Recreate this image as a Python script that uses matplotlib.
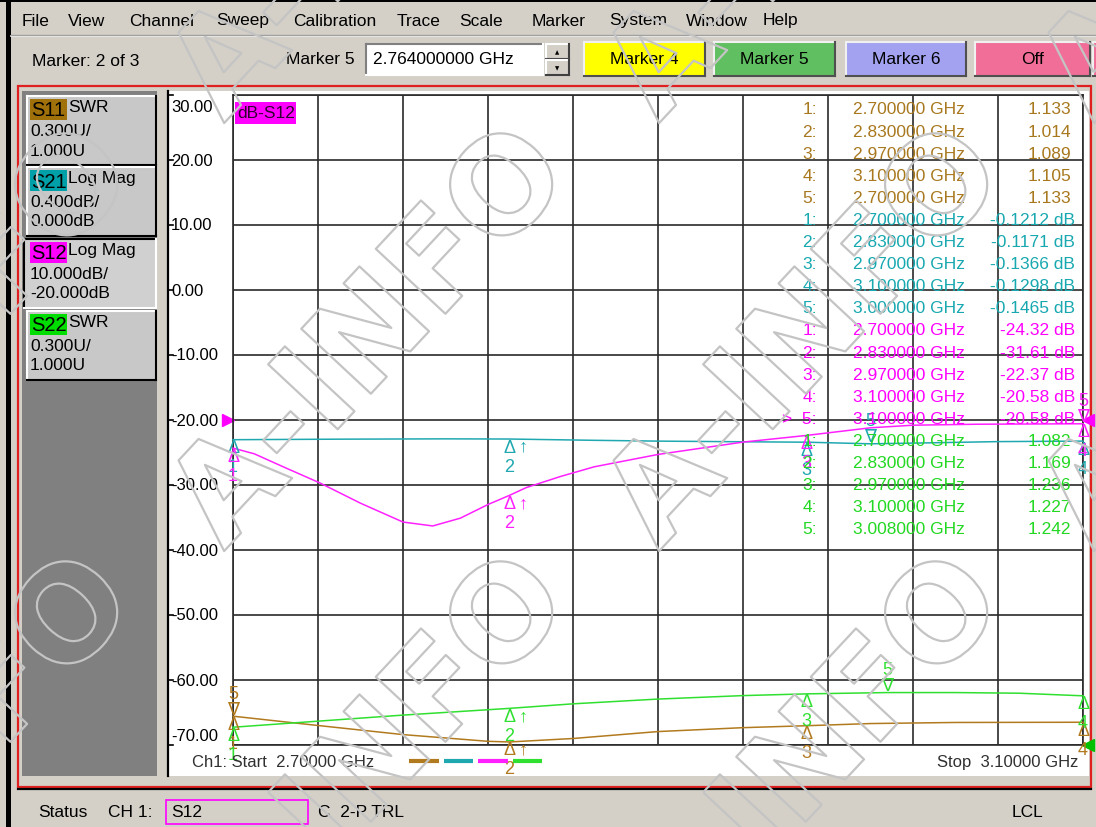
import matplotlib.pyplot as plt
import matplotlib.patheffects as pe
from matplotlib import transforms
from matplotlib.patches import Rectangle

plt.rcParams['font.family'] = ['Liberation Sans', 'DejaVu Sans']

W, H = 1096, 828

# sweep (GHz) and the S12 dB grid the traces are drawn on
f_start, f_stop = 2.70, 3.10
grid_top, grid_bot = 30, -70
ylabels = ["30.00", "20.00", "10.00", "0.00", "-10.00", "-20.00",
           "-30.00", "-40.00", "-50.00", "-60.00", "-70.00"]

# traces
s11_freq = [2.70, 2.74, 2.78, 2.82, 2.83, 2.86, 2.90, 2.94, 2.97, 3.00, 3.04, 3.10]
s11_swr = [1.133, 1.090, 1.048, 1.017, 1.014, 1.030, 1.062, 1.080, 1.089, 1.099, 1.104, 1.105]

s21_freq = [2.70, 2.75, 2.80, 2.83, 2.87, 2.90, 2.94, 2.97, 3.00, 3.03, 3.06, 3.10]
s21_db = [-0.1212, -0.118, -0.116, -0.1171, -0.125, -0.130, -0.134, -0.1366, -0.1465, -0.140, -0.133, -0.1298]

s12_freq = [2.700, 2.710, 2.725, 2.741, 2.760, 2.780, 2.794, 2.807, 2.820, 2.830, 2.838,
            2.854, 2.870, 2.900, 2.940, 2.970, 3.000, 3.020, 3.050, 3.100]
s12_db = [-24.32, -25.2, -27.4, -29.7, -32.8, -35.7, -36.3, -35.1, -33.0, -31.61, -30.4,
          -28.7, -27.2, -25.3, -23.4, -22.37, -21.2, -20.8, -20.65, -20.58]

s22_freq = [2.70, 2.74, 2.78, 2.83, 2.86, 2.90, 2.94, 2.97, 3.008, 3.04, 3.07, 3.10]
s22_swr = [1.082, 1.110, 1.138, 1.169, 1.190, 1.212, 1.228, 1.236, 1.242, 1.242, 1.239, 1.227]

# marker readouts (markers 1..5)
mk_s11_freq = [2.70, 2.83, 2.97, 3.10, 2.70]
mk_s11_val = [1.133, 1.014, 1.089, 1.105, 1.133]
mk_s21_freq = [2.70, 2.83, 2.97, 3.10, 3.00]
mk_s21_val = [-0.1212, -0.1171, -0.1366, -0.1298, -0.1465]
mk_s12_freq = [2.70, 2.83, 2.97, 3.10, 3.10]
mk_s12_val = [-24.32, -31.61, -22.37, -20.58, -20.58]
mk_s22_freq = [2.70, 2.83, 2.97, 3.10, 3.008]
mk_s22_val = [1.082, 1.169, 1.236, 1.227, 1.242]

# channel setup: format, scale per div, reference value, reference line on grid
traces = [
    dict(name="S11", fmt="SWR", per_div=0.3, ref=1.0, ref_pos=-70, lines=["0.300U/", "1.000U"],
         color="#b27a1e", txt="#a8781e", tag="#a0700a", freq=s11_freq, val=s11_swr,
         mf=mk_s11_freq, mv=mk_s11_val, vfmt="{:.3f}"),
    dict(name="S21", fmt="Log Mag", per_div=0.4, ref=0.0, ref_pos=-20, lines=["0.400dB/", "0.000dB"],
         color="#20a8b0", txt="#18a8b0", tag="#00a0a8", freq=s21_freq, val=s21_db,
         mf=mk_s21_freq, mv=mk_s21_val, vfmt="{:.4f} dB"),
    dict(name="S12", fmt="Log Mag", per_div=10.0, ref=-20.0, ref_pos=-20, lines=["10.000dB/", "-20.000dB"],
         color="#ff20ff", txt="#ff00ff", tag="#ff00ff", freq=s12_freq, val=s12_db,
         mf=mk_s12_freq, mv=mk_s12_val, vfmt="{:.2f} dB"),
    dict(name="S22", fmt="SWR", per_div=0.3, ref=1.0, ref_pos=-70, lines=["0.300U/", "1.000U"],
         color="#30e030", txt="#22d822", tag="#00dd00", freq=s22_freq, val=s22_swr,
         mf=mk_s22_freq, mv=mk_s22_val, vfmt="{:.3f}"),
]


def to_grid(v, tr):
    return tr["ref_pos"] + (v - tr["ref"]) / tr["per_div"] * 10


FS = 12.5
GRAY = "#d4d0c8"

fig = plt.figure(figsize=(W / 100, H / 100), dpi=100)
ui = fig.add_axes([0, 0, 1, 1], zorder=0)
ui.set_xlim(0, W)
ui.set_ylim(H, 0)
ui.axis("off")


def box(a, x0, y0, x1, y1, fc, ec="none", lw=0, z=1):
    a.add_patch(Rectangle((x0, y0), x1 - x0, y1 - y0, facecolor=fc, edgecolor=ec, linewidth=lw, zorder=z))


def bevel(a, x0, y0, x1, y1, fc, hi="white", lo="#404040", z=1):
    box(a, x0, y0, x1, y1, fc, z=z)
    a.plot([x0, x1], [y0, y0], color=hi, lw=1.5, zorder=z + 0.1)
    a.plot([x0, x0], [y0, y1], color=hi, lw=1.5, zorder=z + 0.1)
    a.plot([x0, x1], [y1, y1], color=lo, lw=1.5, zorder=z + 0.1)
    a.plot([x1, x1], [y0, y1], color=lo, lw=1.5, zorder=z + 0.1)


# window chrome
box(ui, 0, 0, W, H, GRAY, z=0)
box(ui, 0, 0, W, 3, "black")
box(ui, 6, 0, 11, H, "black")
ui.plot([11, W], [37, 37], color="white", lw=1.2)
ui.plot([11, W], [36, 36], color="#a0a0a0", lw=1)

menu = ["File", "View", "Channel", "Sweep", "Calibration", "Trace", "Scale",
        "Marker", "System", "Window", "Help"]
menu_x = [22, 68, 129, 216, 293, 397, 459, 532, 609, 686, 763]
for m, x in zip(menu, menu_x):
    ui.text(x, 21, m, fontsize=FS, va="center", ha="left", color="black")

ui.text(32, 61, "Marker: 2 of 3", fontsize=FS, va="center")
ui.text(286, 60, "Marker 5", fontsize=FS, va="center")
bevel(ui, 366, 45, 543, 76, "white", hi="#808080", lo="white")
ui.text(373, 60, "2.764000000 GHz", fontsize=FS, va="center")
bevel(ui, 546, 45, 569, 60, GRAY)
bevel(ui, 546, 61, 569, 76, GRAY)
ui.text(557.5, 53, "▲", fontsize=4, ha="center", va="center", family="DejaVu Sans")
ui.text(557.5, 69, "▼", fontsize=4, ha="center", va="center", family="DejaVu Sans")

buttons = ["Marker 4", "Marker 5", "Marker 6", "Off"]
button_fc = ["#ffff00", "#60bf60", "#a2a2f0", "#f06e98"]
button_x = [(584, 705), (714, 835), (846, 966), (975, 1090)]
for lab, fc, (x0, x1) in zip(buttons, button_fc, button_x):
    bevel(ui, x0, 43, x1, 77, fc, hi="#f0f0f0", lo="#505050")
    ui.text((x0 + x1) / 2, 60, lab, fontsize=FS, ha="center", va="center", zorder=3)
bevel(ui, 1093, 43, 1100, 77, "#f06e98", hi="#f0f0f0", lo="#505050")

# red channel frame
box(ui, 18, 87, 1091, 788, "none", ec="#e02020", lw=1.6, z=2)
ui.plot([18, 1091], [790, 790], color="black", lw=1.6, zorder=2)

# left trace panel
box(ui, 22, 92, 157, 777, "#808080")
for k, tr in enumerate(traces):
    y0 = [97, 168, 240, 312][k]
    y1 = y0 + 69
    sel = tr["name"] == "S12"
    if sel:
        bevel(ui, 24, y0, 156, y1, "#d0d0d0", hi="black", lo="white", z=2)
    else:
        bevel(ui, 27, y0, 156, y1, "#c8c8c8", hi="white", lo="black", z=2)
    box(ui, 30, y0 + 3, 67, y0 + 24, tr["tag"], z=3)
    ui.text(31, y0 + 14, tr["name"], fontsize=14.5, va="center", zorder=4)
    ui.text(68, y0 + 11, tr["fmt"], fontsize=FS, va="center", zorder=4)
    ui.text(30, y0 + 35, tr["lines"][0], fontsize=FS, va="center", zorder=4)
    ui.text(30, y0 + 54, tr["lines"][1], fontsize=FS, va="center", zorder=4)

# plot area
box(ui, 168, 92, 1089, 777, "white")
ui.plot([167.5, 167.5], [92, 777], color="black", lw=1.6)

# status bar
ui.text(38, 813, "Status", fontsize=FS, va="center")
ui.text(108, 813, "CH 1:", fontsize=FS, va="center")
box(ui, 166, 801, 308, 825, "none", ec="#ff00ff", lw=1.2)
ui.text(171, 813, "S12", fontsize=FS, va="center")
ui.text(318, 813, "C  2-P TRL", fontsize=FS, va="center")
ui.text(1012, 813, "LCL", fontsize=FS, va="center")

# chart
ax = fig.add_axes([233 / W, (H - 746) / H, 850 / W, 650 / H], zorder=2)
ax.set_facecolor("none")
ax.set_xlim(f_start, f_stop)
ax.set_ylim(grid_bot, grid_top)
ax.set_xticks([f_start + k * (f_stop - f_start) / 10 for k in range(11)])
ax.set_yticks(range(grid_bot, grid_top + 1, 10))
ax.tick_params(length=0, labelbottom=False, labelleft=False)
ax.grid(color="#2a2a2a", lw=1.2)
for s in ax.spines.values():
    s.set_color("#2a2a2a")
    s.set_linewidth(1.2)

left = transforms.blended_transform_factory(ax.transAxes, ax.transData)
for lab, v in zip(ylabels, range(grid_top, grid_bot - 1, -10)):
    va = "center"
    yy = v
    if v == grid_top:
        va, yy = "top", v - 0.6
    elif v == grid_bot:
        va, yy = "bottom", v + 0.3
    ax.text(-0.073, yy, lab, transform=left, fontsize=12, ha="left", va=va, clip_on=False)
    ax.plot([-0.0765, -0.071], [v, v], transform=left, color="black", lw=1.2, clip_on=False)

for tr in traces:
    ax.plot(tr["freq"], [to_grid(v, tr) for v in tr["val"]], color=tr["color"], lw=1.1,
            clip_on=False, zorder=3)

# markers on each trace
for tr in traces:
    c = tr["color"]
    for i, (f, v) in enumerate(zip(tr["mf"], tr["mv"])):
        d = to_grid(v, tr)
        kw = dict(textcoords="offset pixels", ha="center", va="center", color=c,
                  annotation_clip=False, zorder=4, fontsize=13)
        if i == 4:
            ax.annotate("∇", (f, d), xytext=(0, 8), **kw)
            ax.annotate("5", (f, d), xytext=(0, 23), **kw)
        else:
            ax.annotate("Δ", (f, d), xytext=(0, -8), **kw)
            ax.annotate(str(i + 1), (f, d), xytext=(0, -27), **kw)
            if i == 1:
                ax.annotate("↑", (f, d), xytext=(14, -7), **kw)

# reference position arrows
ax.plot([f_start], [-20], marker=">", ms=8, color="#ff00ff", clip_on=False,
        transform=transforms.offset_copy(ax.transData, fig, x=-5, y=0, units="dots"))
ax.plot([f_stop], [-20], marker="<", ms=8, color="#ff00ff", clip_on=False,
        transform=transforms.offset_copy(ax.transData, fig, x=5, y=0, units="dots"))
ax.plot([f_stop], [-70], marker="<", ms=8, color="#00c000", clip_on=False,
        transform=transforms.offset_copy(ax.transData, fig, x=5, y=0, units="dots"))

# overlay: tag, marker table, footer, watermark
top = fig.add_axes([0, 0, 1, 1], zorder=5)
top.set_xlim(0, W)
top.set_ylim(H, 0)
top.axis("off")
top.patch.set_alpha(0)

box(top, 235, 103, 296, 125, "#ff00ff")
top.text(237, 114, "dB-S12", fontsize=12.5, va="center", color="#300030")

row = 0
for tr in traces:
    for i, (f, v) in enumerate(zip(tr["mf"], tr["mv"])):
        y = 110 + 22.1 * row
        num = "{}:".format(i + 1)
        if tr["name"] == "S12" and i == 4:
            num = ">  " + num
        top.text(817, y, num, fontsize=12.5, ha="right", va="center", color=tr["txt"])
        top.text(853, y, "{:.6f} GHz".format(f), fontsize=12.5, ha="left", va="center", color=tr["txt"])
        xr = 1071 if tr["fmt"] == "SWR" else 1075
        top.text(xr, y, tr["vfmt"].format(v), fontsize=12.5, ha="right", va="center", color=tr["txt"])
        row += 1

top.text(192, 763, "Ch1: Start  2.70000 GHz", fontsize=12, va="center", color="#303030")
top.text(1078, 763, "Stop  3.10000 GHz", fontsize=12, ha="right", va="center", color="#303030")
for tr, (x0, x1) in zip(traces, [(409, 439), (444, 473), (478, 508), (513, 542)]):
    top.plot([x0, x1], [762, 762], color=tr["color"], lw=3, solid_capstyle="butt")

for i in range(-1, 4):
    for j in range(-1, 3):
        ox, oy = 75 + 435 * i, 192 + 428 * j
        top.text(ox - 138, oy + 148, "A-INFO", rotation=47, rotation_mode="anchor",
                 ha="center", va="center", fontsize=94, fontweight="bold", family="DejaVu Sans",
                 color="none", path_effects=[pe.Stroke(linewidth=1.6, foreground="#c4c4c4")])

fig.savefig("out.png", dpi=100)
